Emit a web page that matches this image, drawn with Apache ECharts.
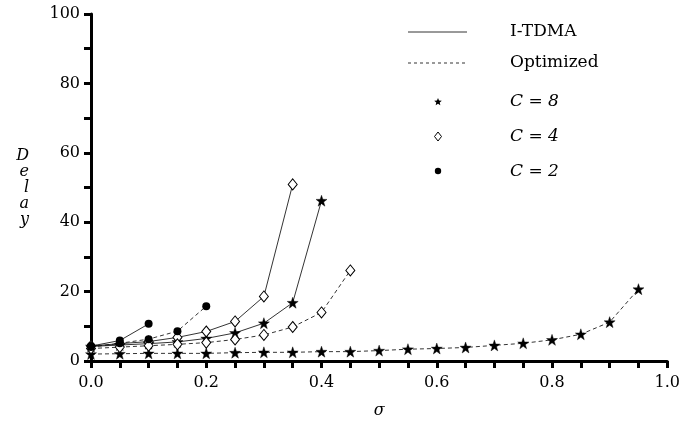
<!DOCTYPE html>
<html>
<head>
<meta charset="utf-8">
<script src="https://cdn.jsdelivr.net/npm/echarts@6/dist/echarts.min.js"></script>
<style>html,body{margin:0;padding:0;background:#fff}#c{width:683px;height:424px}</style>
</head>
<body>
<div id="c"></div>
<script>
const sigma = [0,0.05,0.1,0.15,0.2,0.25,0.3,0.35,0.4,0.45,0.5,0.55,0.6,0.65,0.7,0.75,0.8,0.85,0.9,0.95];
const itdmaC8 = [4.2,4.6,5.0,5.5,6.5,8.1,10.9,16.8,46.2];
const itdmaC4 = [4.3,5.0,5.6,6.8,8.5,11.4,18.6,50.9];
const itdmaC2 = [4.3,5.9,10.7];
const optC8 = [2.0,2.1,2.2,2.2,2.2,2.4,2.5,2.5,2.7,2.7,3.0,3.4,3.6,3.9,4.5,5.1,6.1,7.7,11.2,20.7];
const optC4 = [3.6,4.0,4.4,4.8,5.3,6.2,7.5,9.8,14.0,26.1];
const optC2 = [4.0,5.1,6.3,8.6,15.8];
const legendNames = ['I-TDMA','Optimized','C = 8','C = 4','C = 2'];

const STAR = 'path://M0,-10 L2.35,-3.24 L9.51,-3.09 L3.8,1.24 L5.88,8.09 L0,4 L-5.88,8.09 L-3.8,1.24 L-9.51,-3.09 L-2.35,-3.24 Z';
const FONT = 'DejaVu Serif';

function pairs(vals){ return vals.map((v,i)=>[sigma[i], v]); }
function mk(name, vals, dashed, kind){
  const s = {
    name: name, type: 'line', data: pairs(vals), animation: false,
    lineStyle: {color:'#000', width: 0.8, type: dashed ? [4,3] : 'solid'},
    itemStyle: {color:'#000', borderColor:'#000', borderWidth:1},
    z: 3
  };
  if (kind === 'star') { s.symbol = STAR; s.symbolSize = 11; s.itemStyle = {color:'#000', borderColor:'#000', borderWidth:0.4}; }
  else if (kind === 'diamond') { s.symbol = 'diamond'; s.symbolSize = [9,11]; s.itemStyle = {color:'#fff', borderColor:'#000', borderWidth:1}; }
  else { s.symbol = 'circle'; s.symbolSize = 8; s.itemStyle = {color:'#000', borderColor:'#000', borderWidth:0}; }
  return s;
}
function starPts(cx, cy, R, r){
  const p = [];
  for (let i = 0; i < 10; i++) {
    const a = -Math.PI/2 + i*Math.PI/5;
    const rad = (i % 2 === 0) ? R : r;
    p.push([cx + rad*Math.cos(a), cy + rad*Math.sin(a)]);
  }
  return p;
}
function legendText(i, y, italic){
  return {type:'text', style:{x: 510, y: y, text: legendNames[i], font: (italic ? 'italic ' : '') + '17px "' + FONT + '"', fill:'#000', verticalAlign:'middle', textVerticalAlign:'middle'}};
}

const chart = echarts.init(document.getElementById('c'), null, {renderer:'canvas'});
chart.setOption({
  animation: false,
  backgroundColor: '#fff',
  grid: {left: 91, right: 13, top: 14, bottom: 63},
  xAxis: {
    type: 'value', min: 0, max: 1, interval: 0.05,
    name: 'σ', nameLocation: 'middle', nameGap: 42,
    nameTextStyle: {fontFamily: FONT, fontStyle: 'italic', fontSize: 16, color: '#000'},
    axisLine: {show: true, lineStyle: {color:'#000', width: 3}},
    axisTick: {show: true, length: 7, inside: false, lineStyle: {color:'#000', width: 3}},
    splitLine: {show: false},
    axisLabel: {
      fontFamily: FONT, fontSize: 16, color: '#000', margin: 14,
      formatter: function(v){ const k = Math.round(v*20); return (k % 4 === 0) ? (k/20).toFixed(1) : ''; },
      showMinLabel: true, showMaxLabel: true
    }
  },
  yAxis: {
    type: 'value', min: 0, max: 100, interval: 10,
    name: 'D\ne\nl\na\ny', nameLocation: 'middle', nameGap: 62, nameRotate: 0,
    nameTextStyle: {fontFamily: FONT, fontStyle: 'italic', fontSize: 16, color: '#000', lineHeight: 16},
    axisLine: {show: true, lineStyle: {color:'#000', width: 3}},
    axisTick: {show: true, length: 7, inside: false, lineStyle: {color:'#000', width: 3}},
    splitLine: {show: false},
    axisLabel: {
      fontFamily: FONT, fontSize: 16, color: '#000', margin: 11,
      formatter: function(v){ return (Math.round(v) % 20 === 0) ? String(Math.round(v)) : ''; }
    }
  },
  series: [
    mk('I-TDMA C=8', itdmaC8, false, 'star'),
    mk('I-TDMA C=4', itdmaC4, false, 'diamond'),
    mk('I-TDMA C=2', itdmaC2, false, 'circle'),
    mk('Optimized C=8', optC8, true, 'star'),
    mk('Optimized C=4', optC4, true, 'diamond'),
    mk('Optimized C=2', optC2, true, 'circle')
  ],
  graphic: [
    {type:'line', shape:{x1:408, y1:32, x2:467, y2:32}, style:{stroke:'#000', lineWidth:0.8}},
    {type:'line', shape:{x1:408, y1:63, x2:467, y2:63}, style:{stroke:'#000', lineWidth:0.8, lineDash:[3,3]}},
    {type:'polygon', shape:{points: starPts(438, 102, 4, 1.8)}, style:{fill:'#000'}},
    {type:'polygon', shape:{points:[[438,132],[441.5,136.5],[438,141],[434.5,136.5]]}, style:{fill:'#fff', stroke:'#000', lineWidth:1}},
    {type:'circle', shape:{cx:438, cy:171, r:3.2}, style:{fill:'#000'}},
    legendText(0, 32, false),
    legendText(1, 63, false),
    legendText(2, 102, true),
    legendText(3, 137, true),
    legendText(4, 172, true)
  ]
});
</script>
</body>
</html>
